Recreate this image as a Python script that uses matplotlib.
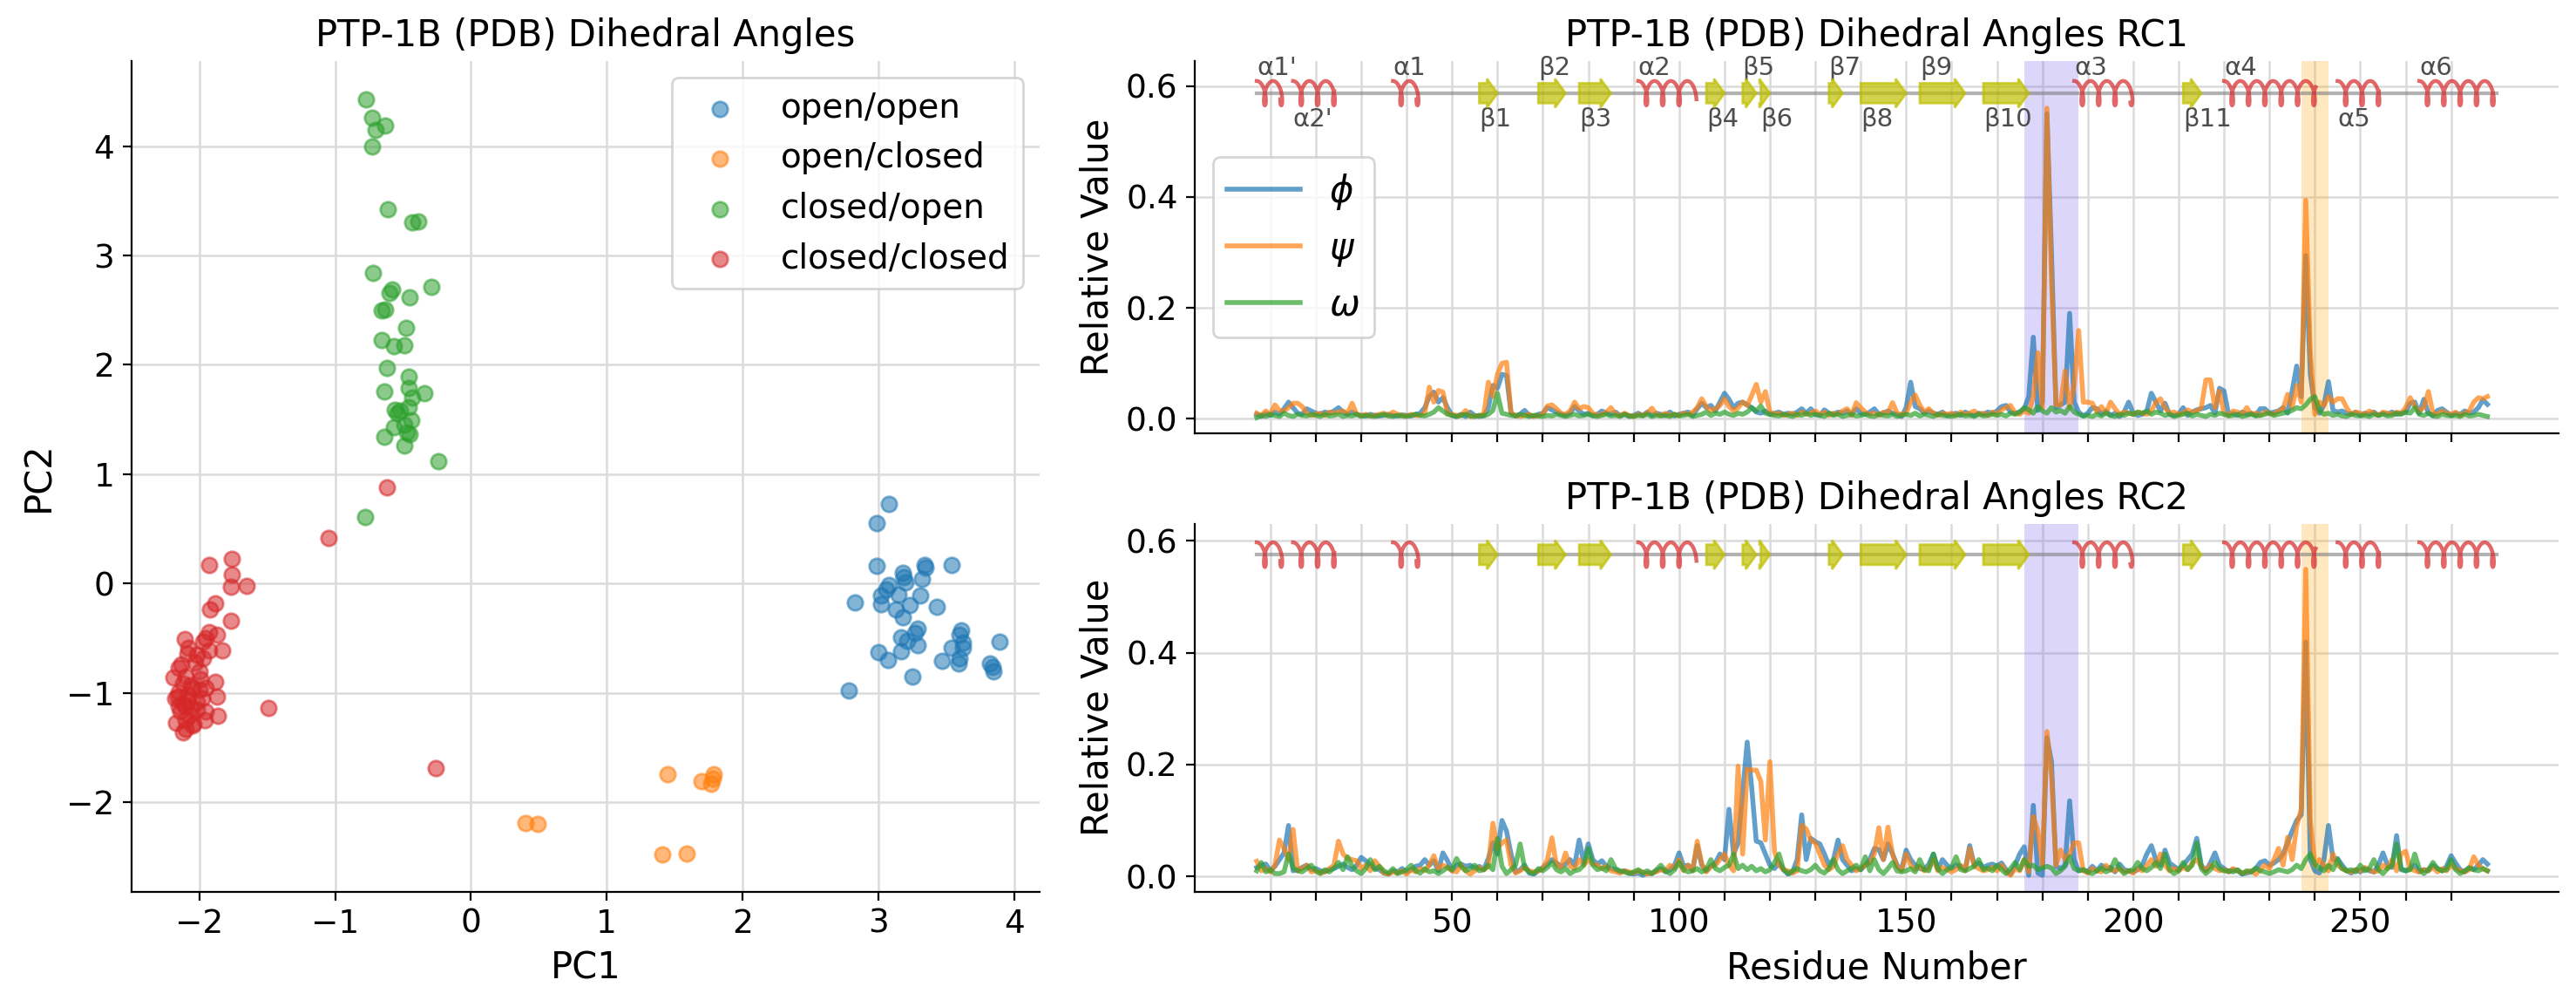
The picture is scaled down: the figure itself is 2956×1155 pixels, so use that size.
import numpy as np
import matplotlib.pyplot as plt
from matplotlib.patches import FancyArrow

# ---------------- PCA scatter (left panel) ----------------
open_open_pc1 = [3.08, 2.99, 2.99, 3.18, 3.19, 3.34, 3.35, 3.54, 3.32, 3.08,
                 3.20, 3.06, 3.02, 2.83, 3.15, 3.31, 3.02, 3.23, 3.43, 3.13,
                 3.18, 3.29, 3.27, 3.17, 3.21, 3.61, 3.60, 3.89, 3.29, 3.62,
                 3.54, 3.62, 3.17, 3.00, 3.60, 3.47, 3.07, 3.59, 3.82, 3.84,
                 3.85, 3.25, 2.78]
open_open_pc2 = [0.73, 0.55, 0.16, 0.10, 0.06, 0.17, 0.15, 0.17, 0.04, -0.01,
                 0.01, -0.05, -0.11, -0.17, -0.10, -0.11, -0.19, -0.20, -0.21, -0.24,
                 -0.31, -0.41, -0.45, -0.49, -0.52, -0.43, -0.47, -0.53, -0.56, -0.54,
                 -0.59, -0.59, -0.62, -0.63, -0.68, -0.71, -0.70, -0.73, -0.73, -0.76,
                 -0.80, -0.85, -0.98]

open_closed_pc1 = [0.40, 0.49, 1.45, 1.70, 1.77, 1.79, 1.78, 1.41, 1.59]
open_closed_pc2 = [-2.19, -2.20, -1.74, -1.81, -1.83, -1.74, -1.78, -2.48, -2.47]

closed_open_pc1 = [-0.77, -0.73, -0.70, -0.63, -0.73, -0.61, -0.43, -0.39, -0.72, -0.58,
                   -0.60, -0.45, -0.29, -0.66, -0.63, -0.48, -0.66, -0.57, -0.49, -0.62,
                   -0.46, -0.46, -0.64, -0.34, -0.43, -0.56, -0.52, -0.46, -0.54, -0.44,
                   -0.49, -0.57, -0.45, -0.47, -0.64, -0.49, -0.24, -0.78]
closed_open_pc2 = [4.43, 4.26, 4.15, 4.19, 4.00, 3.42, 3.30, 3.31, 2.84, 2.69,
                   2.66, 2.62, 2.71, 2.50, 2.51, 2.34, 2.23, 2.17, 2.18, 1.97,
                   1.89, 1.79, 1.76, 1.74, 1.70, 1.59, 1.58, 1.61, 1.56, 1.49,
                   1.45, 1.43, 1.37, 1.38, 1.34, 1.26, 1.12, 0.61]

closed_closed_pc1 = [-0.62, -1.05, -1.93, -1.76, -1.76, -1.77, -1.65, -1.88, -1.92, -1.77,
                     -1.87, -1.93, -1.95, -2.11, -1.97, -2.08, -1.93, -1.83, -2.09, -2.02,
                     -2.13, -2.15, -2.19, -1.99, -1.88, -2.12, -2.06, -2.15, -2.00, -1.87,
                     -2.16, -2.09, -2.02, -2.10, -2.06, -2.14, -1.95, -1.86, -1.49, -2.17,
                     -2.10, -1.96, -2.04, -2.12, -0.26, -2.05, -2.08, -2.12, -2.02, -2.07,
                     -1.98, -2.15, -2.10, -2.00, -1.95, -2.05, -2.18, -2.03, -1.97, -2.10]
closed_closed_pc2 = [0.88, 0.42, 0.17, 0.23, 0.08, -0.03, -0.02, -0.18, -0.24, -0.34,
                     -0.47, -0.44, -0.50, -0.51, -0.53, -0.59, -0.61, -0.61, -0.64, -0.65,
                     -0.74, -0.77, -0.86, -0.87, -0.90, -0.91, -0.93, -0.99, -0.97, -1.03,
                     -1.03, -1.07, -1.08, -1.12, -1.14, -1.17, -1.17, -1.21, -1.14, -1.27,
                     -1.25, -1.25, -1.28, -1.36, -1.69, -0.95, -1.02, -1.10, -1.15, -1.20,
                     -1.05, -1.12, -0.85, -0.80, -0.95, -1.30, -1.05, -0.72, -0.68, -1.33]

state_names = ["open/open", "open/closed", "closed/open", "closed/closed"]
state_colors = ["tab:blue", "tab:orange", "tab:green", "tab:red"]

# ---------------- dihedral contributions (right panels), x1000 ----------------
residues = np.arange(7, 279)

phi_rc1 = [8, 4, 10,
           6, 12, 8, 18, 30, 20, 10, 8, 18, 14,          # 10
           10, 8, 12, 10, 14, 20, 12, 8, 12, 8,           # 20
           6, 5, 8, 6, 5, 6, 8, 6, 5, 7,                  # 30
           6, 5, 8, 10, 20, 40, 48, 30, 38, 20,           # 40
           6, 4, 8, 4, 12, 6, 4, 6, 20, 60,               # 50
           55, 80, 78, 10, 5, 8, 15, 6, 5, 8,             # 60
           10, 20, 16, 12, 8, 6, 10, 22, 14, 8,           # 70
           10, 6, 8, 14, 10, 8, 12, 6, 8, 4,              # 80
           6, 10, 6, 12, 6, 10, 8, 6, 12, 5,              # 90
           8, 10, 12, 6, 18, 28, 20, 24, 14, 30,          # 100
           46, 35, 20, 28, 30, 25, 20, 12, 10, 14,        # 110
           8, 10, 12, 8, 10, 8, 12, 18, 10, 18,           # 120
           8, 6, 16, 10, 8, 12, 10, 14, 8, 18,            # 130
           10, 8, 12, 18, 8, 10, 14, 10, 8, 4,            # 140
           20, 66, 22, 18, 10, 14, 10, 8, 12, 6,          # 150
           8, 10, 6, 12, 8, 6, 10, 8, 12, 10,             # 160
           14, 22, 24, 12, 10, 12, 18, 40, 147, 15,       # 170
           30, 550, 300, 20, 25, 30, 190, 30, 12, 5,      # 180
           10, 20, 18, 8, 14, 6, 10, 4, 12, 30,           # 190
           10, 6, 8, 14, 46, 30, 14, 28, 8, 6,            # 200
           8, 20, 6, 12, 16, 18, 20, 24, 10, 55,          # 210
           50, 8, 10, 6, 12, 8, 10, 6, 18, 18,            # 220
           10, 12, 14, 20, 10, 50, 95, 40, 294, 80,       # 230
           20, 10, 25, 67, 15, 12, 14, 10, 8, 12,         # 240
           6, 10, 8, 12, 6, 10, 8, 12, 8, 10,             # 250
           12, 28, 30, 10, 35, 10, 6, 15, 18, 12,         # 260
           6, 10, 8, 14, 10, 12, 20, 34, 26]              # 270

psi_rc1 = [10, 6, 14,
           8, 25, 15, 14, 20, 28, 28, 22, 10, 6,          # 10
           8, 10, 6, 12, 10, 12, 14, 10, 28, 8,           # 20
           6, 8, 5, 6, 8, 10, 6, 12, 8, 6,                # 30
           5, 8, 6, 6, 10, 57, 30, 51, 48, 10,            # 40
           8, 6, 6, 15, 4, 5, 6, 8, 66, 40,               # 50
           80, 100, 102, 10, 6, 4, 6, 8, 4, 6,            # 60
           8, 23, 25, 18, 10, 8, 14, 30, 18, 22,          # 70
           20, 10, 6, 8, 12, 20, 8, 6, 10, 6,             # 80
           4, 8, 6, 10, 19, 8, 6, 10, 6, 8,               # 90
           6, 10, 8, 12, 20, 36, 22, 14, 18, 24,          # 100
           36, 22, 14, 20, 30, 24, 42, 62, 30, 49,        # 110
           12, 8, 10, 6, 8, 10, 6, 12, 8, 10,             # 120
           14, 8, 12, 6, 10, 8, 14, 18, 6, 29,            # 130
           20, 12, 8, 10, 6, 12, 10, 29, 10, 8,           # 140
           10, 30, 43, 25, 12, 18, 10, 6, 10, 8,          # 150
           10, 6, 12, 8, 10, 14, 8, 10, 6, 12,            # 160
           8, 16, 20, 24, 10, 8, 14, 10, 40, 119,         # 170
           20, 560, 250, 25, 25, 86, 20, 60, 159, 30,     # 180
           30, 28, 12, 22, 10, 30, 18, 8, 12, 10,         # 190
           8, 12, 10, 8, 14, 30, 36, 20, 10, 12,          # 200
           8, 10, 16, 12, 14, 20, 70, 70, 20, 50,         # 210
           10, 6, 14, 12, 8, 20, 8, 10, 6, 12,            # 220
           10, 8, 14, 18, 44, 20, 60, 30, 394, 120,       # 230
           8, 30, 24, 40, 30, 36, 36, 20, 8, 12,          # 240
           10, 8, 14, 10, 6, 12, 10, 8, 12, 10,           # 250
           20, 38, 22, 14, 20, 49, 10, 8, 14, 10,         # 260
           8, 12, 6, 10, 14, 30, 38, 36, 40]              # 270

omega_rc1 = [2, 6, 4,
             8, 6, 4, 10, 6, 4, 8, 6, 5, 8,               # 10
             6, 4, 8, 5, 6, 8, 4, 6, 5, 8,                # 20
             4, 6, 5, 4, 6, 8, 5, 4, 6, 5,                # 30
             4, 6, 8, 6, 5, 8, 12, 20, 14, 8,             # 40
             6, 4, 6, 8, 5, 4, 6, 5, 8, 15,               # 50
             46, 10, 8, 6, 5, 8, 6, 4, 6, 5,              # 60
             4, 6, 5, 8, 6, 4, 6, 8, 5, 6,                # 70
             8, 5, 4, 6, 8, 5, 6, 4, 8, 5,                # 80
             4, 6, 5, 8, 4, 6, 5, 6, 4, 8,                # 90
             5, 6, 8, 4, 6, 8, 12, 6, 10, 8,              # 100
             12, 8, 6, 10, 8, 12, 20, 14, 23, 10,         # 110
             8, 6, 5, 8, 6, 4, 8, 6, 10, 6,               # 120
             8, 6, 4, 10, 6, 8, 4, 6, 8, 5,               # 130
             6, 8, 5, 4, 8, 6, 5, 8, 4, 6,                # 140
             8, 6, 10, 5, 8, 6, 4, 8, 6, 5,               # 150
             4, 6, 8, 5, 6, 4, 8, 5, 6, 8,                # 160
             6, 8, 5, 10, 8, 12, 20, 16, 10, 22,          # 170
             14, 10, 20, 12, 15, 10, 22, 12, 8, 5,        # 180
             6, 4, 8, 5, 10, 6, 4, 8, 6, 10,              # 190
             8, 12, 10, 14, 8, 12, 10, 6, 8, 4,           # 200
             6, 8, 10, 5, 8, 6, 4, 8, 6, 10,              # 210
             8, 5, 6, 8, 4, 6, 8, 5, 6, 8,                # 220
             10, 6, 8, 10, 12, 15, 20, 18, 25, 35,        # 230
             40, 15, 8, 10, 6, 8, 5, 4, 8, 6,             # 240
             5, 6, 4, 8, 6, 8, 5, 6, 10, 8,               # 250
             12, 10, 20, 8, 6, 10, 5, 4, 8, 6,            # 260
             5, 6, 4, 8, 5, 6, 8, 6, 4]                   # 270

phi_rc2 = [16, 20, 22,
           10, 18, 30, 42, 91, 10, 12, 16, 20, 12,        # 10
           14, 10, 8, 12, 14, 18, 22, 16, 12, 20,         # 20
           34, 28, 20, 14, 12, 6, 4, 10, 8, 14,           # 30
           8, 12, 18, 20, 30, 20, 28, 10, 42, 28,         # 40
           10, 20, 22, 18, 20, 14, 18, 12, 32, 60,        # 50
           40, 100, 81, 40, 8, 12, 20, 6, 4, 10,          # 60
           16, 22, 30, 24, 18, 22, 30, 20, 65, 25,        # 70
           58, 30, 22, 28, 18, 14, 12, 8, 10, 6,          # 80
           4, 6, 2, 6, 5, 10, 14, 8, 12, 20,              # 90
           42, 18, 20, 12, 55, 20, 10, 18, 24, 40,        # 100
           30, 120, 40, 60, 150, 240, 158, 63, 60, 40,    # 110
           20, 14, 24, 12, 4, 8, 30, 110, 30, 68,         # 120
           62, 58, 40, 20, 30, 65, 30, 20, 10, 14,        # 130
           12, 20, 30, 50, 48, 30, 58, 40, 20, 12,        # 140
           47, 30, 20, 14, 12, 22, 40, 12, 30, 20,        # 150
           14, 20, 18, 12, 55, 20, 24, 16, 20, 22,        # 160
           18, 24, 12, 4, 20, 40, 53, 2, 127, 6,          # 170
           2, 248, 205, 18, 14, 20, 135, 30, 10, 12,      # 180
           8, 18, 10, 20, 14, 16, 8, 22, 12, 10,          # 190
           8, 12, 20, 40, 55, 30, 20, 47, 24, 18,         # 200
           12, 20, 30, 40, 68, 20, 10, 24, 42, 20,        # 210
           14, 8, 12, 10, 4, 6, 8, 14, 25, 28,            # 220
           20, 24, 30, 40, 60, 81, 100, 110, 419, 30,     # 230
           10, 6, 30, 91, 30, 32, 20, 10, 6, 12,          # 240
           8, 14, 10, 8, 20, 42, 20, 16, 73, 12,          # 250
           10, 14, 20, 8, 12, 10, 20, 14, 10, 18,         # 260
           37, 24, 12, 8, 16, 12, 20, 30, 22]             # 270

psi_rc2 = [27, 10, 14,
           8, 20, 65, 50, 30, 84, 10, 14, 20, 8,          # 10
           10, 6, 8, 14, 20, 63, 40, 32, 30, 28,          # 20
           14, 20, 10, 28, 18, 6, 4, 8, 6, 10,            # 30
           4, 12, 8, 14, 10, 20, 37, 14, 20, 16,          # 40
           10, 8, 20, 10, 4, 10, 16, 12, 18, 95,          # 50
           50, 60, 65, 20, 6, 10, 16, 10, 8, 10,          # 60
           14, 30, 69, 20, 16, 42, 18, 14, 30, 20,        # 70
           30, 22, 20, 14, 18, 10, 8, 6, 10, 8,           # 80
           6, 10, 8, 4, 6, 8, 12, 10, 20, 14,             # 90
           30, 10, 20, 10, 63, 22, 8, 18, 20, 30,         # 100
           40, 20, 10, 197, 40, 192, 190, 190, 170, 65,   # 110
           205, 45, 20, 12, 10, 6, 10, 91, 85, 65,        # 120
           60, 40, 20, 12, 18, 40, 55, 30, 20, 10,        # 130
           14, 20, 24, 40, 87, 30, 88, 40, 18, 10,        # 140
           40, 20, 12, 18, 10, 14, 30, 10, 16, 12,        # 150
           8, 12, 20, 10, 50, 18, 14, 10, 12, 16,         # 160
           10, 20, 8, 2, 14, 10, 30, 8, 107, 81,          # 170
           20, 259, 180, 20, 47, 30, 40, 60, 60, 10,      # 180
           6, 14, 10, 8, 20, 12, 10, 14, 8, 10,           # 190
           6, 14, 10, 20, 30, 18, 40, 20, 10, 14,         # 200
           10, 16, 12, 24, 30, 18, 10, 20, 14, 10,        # 210
           12, 8, 14, 10, 6, 8, 10, 4, 12, 20,            # 220
           14, 30, 50, 20, 70, 30, 90, 120, 549, 100,     # 230
           20, 30, 20, 10, 40, 20, 14, 10, 8, 12,         # 240
           10, 16, 12, 8, 10, 20, 14, 30, 10, 40,         # 250
           45, 14, 10, 8, 12, 10, 16, 8, 14, 10,          # 260
           20, 14, 10, 8, 12, 35, 20, 14, 10]             # 270

omega_rc2 = [10, 25, 8,
             12, 5, 5, 8, 40, 15, 10, 8, 14, 20,          # 10
             10, 5, 12, 8, 15, 25, 12, 35, 18, 10,        # 20
             5, 14, 30, 12, 18, 10, 6, 14, 5, 8,          # 30
             12, 20, 10, 6, 14, 8, 10, 5, 10, 16,         # 40
             12, 32, 18, 10, 14, 20, 10, 12, 20, 12,      # 50
             68, 18, 5, 12, 20, 58, 15, 8, 5, 14,         # 60
             10, 16, 25, 12, 8, 14, 5, 10, 12, 20,        # 70
             50, 20, 12, 15, 10, 30, 14, 10, 8, 5,        # 80
             8, 12, 6, 10, 5, 12, 20, 10, 5, 12,          # 90
             25, 12, 8, 10, 14, 8, 12, 30, 14, 10,        # 100
             16, 20, 40, 14, 20, 12, 18, 10, 14, 8,       # 110
             12, 25, 40, 12, 5, 10, 14, 10, 8, 12,        # 120
             20, 10, 6, 14, 30, 12, 5, 10, 14, 20,        # 130
             12, 35, 10, 30, 12, 5, 14, 25, 10, 8,        # 140
             10, 14, 8, 30, 12, 10, 40, 14, 5, 12,        # 150
             16, 35, 12, 10, 14, 18, 30, 12, 15, 10,      # 160
             20, 12, 5, 14, 25, 12, 30, 18, 20, 12,       # 170
             15, 18, 15, 5, 10, 18, 35, 14, 10, 12,       # 180
             8, 5, 10, 15, 8, 12, 30, 14, 5, 10,          # 190
             12, 25, 14, 10, 16, 25, 14, 40, 12, 5,       # 200
             10, 25, 12, 20, 60, 14, 5, 12, 25, 14,       # 210
             10, 10, 8, 12, 5, 10, 8, 15, 10, 8,          # 220
             5, 8, 12, 10, 8, 12, 20, 14, 30, 40,         # 230
             22, 15, 10, 20, 12, 30, 14, 10, 12, 8,       # 240
             20, 10, 14, 30, 12, 5, 14, 20, 58, 14,       # 250
             10, 12, 40, 14, 5, 12, 25, 14, 10, 12,       # 260
             30, 12, 5, 10, 15, 12, 10, 14, 10]           # 270

# ---------------- secondary structure of PTP-1B ----------------
helix_names = ["α1'", "α2'", "α1", "α2", "α3", "α4", "α5", "α6"]
helix_start = [7, 15, 37, 91, 187, 220, 245, 263]
helix_end = [13, 25, 43, 103, 200, 241, 255, 280]
helix_above = [True, False, True, True, True, True, False, True]

strand_names = ["β1", "β2", "β3", "β4", "β5", "β6", "β7", "β8", "β9", "β10", "β11"]
strand_start = [56, 69, 78, 106, 114, 118, 133, 140, 153, 167, 211]
strand_end = [60, 75, 85, 110, 117, 120, 136, 150, 163, 177, 215]
strand_above = [False, True, False, False, True, False, True, False, True, False, False]

wpd_loop = (176, 188)
second_site = (237, 243)


def draw_ss(ax, y, labels=True):
    ax.plot([helix_start[0], helix_end[-1]], [y, y], color="gray", alpha=0.6, lw=1.5, zorder=3)
    for name, s, e, up in zip(helix_names, helix_start, helix_end, helix_above):
        u = np.linspace(0, e - s, 400)
        t = 2 * np.pi * u / 3.6
        # coil glyph: arcs on top, narrow loops hanging below
        ax.plot(s + u + 0.95 * np.sin(t), y + 0.022 * np.cos(t),
                color="tab:red", alpha=0.7, lw=1.6, zorder=4)
        if labels:
            ax.text(s, y + (0.045 if up else -0.047), name, ha="left", va="center",
                    fontsize=10.5, color="0.3")
    for name, s, e, up in zip(strand_names, strand_start, strand_end, strand_above):
        ax.add_patch(FancyArrow(s, y, e - s, 0, width=0.036, head_width=0.052,
                                head_length=2.3, length_includes_head=True,
                                facecolor="#bfbf00", edgecolor="#bfbf00",
                                alpha=0.7, lw=1, zorder=4))
        if labels:
            ax.text(s, y + (0.045 if up else -0.047), name, ha="left", va="center",
                    fontsize=10.5, color="0.3")


fig = plt.figure(figsize=(14.78, 5.775), dpi=200)
ax0 = fig.add_axes([0.0510, 0.1147, 0.3527, 0.8247])
ax1 = fig.add_axes([0.4638, 0.5693, 0.5294, 0.3701])
ax2 = fig.add_axes([0.4638, 0.1147, 0.5294, 0.3650])

# left panel
groups = [(open_open_pc1, open_open_pc2), (open_closed_pc1, open_closed_pc2),
          (closed_open_pc1, closed_open_pc2), (closed_closed_pc1, closed_closed_pc2)]
for (px, py), name, c in zip(groups, state_names, state_colors):
    ax0.scatter(px, py, s=40, color=c, alpha=0.55, label=name, zorder=3)
ax0.set_xlim(-2.5, 4.19)
ax0.set_ylim(-2.815, 4.778)
ax0.set_xticks(range(-2, 5))
ax0.set_yticks(range(-2, 5))
ax0.set_xlabel("PC1", fontsize=15)
ax0.set_ylabel("PC2", fontsize=15)
ax0.set_title("PTP-1B (PDB) Dihedral Angles", fontsize=15)
ax0.legend(loc="upper right", fontsize=14)

# right panels
ticks = np.arange(10, 280, 10)
for ax, series, title, ytop, ss_y, lab in [
        (ax1, (phi_rc1, psi_rc1, omega_rc1), "PTP-1B (PDB) Dihedral Angles RC1", 0.645, 0.587, True),
        (ax2, (phi_rc2, psi_rc2, omega_rc2), "PTP-1B (PDB) Dihedral Angles RC2", 0.630, 0.575, False)]:
    ax.axvspan(*wpd_loop, color="mediumslateblue", alpha=0.27, lw=0, zorder=1)
    ax.axvspan(*second_site, color="orange", alpha=0.25, lw=0, zorder=1)
    for vals, sym, c in zip(series, [r"$\phi$", r"$\psi$", r"$\omega$"],
                            ["tab:blue", "tab:orange", "tab:green"]):
        ax.plot(residues, np.array(vals) / 1000.0, color=c, alpha=0.7, lw=2,
                label=sym, zorder=2)
    draw_ss(ax, ss_y, labels=lab)
    ax.set_xlim(-6.65, 293.65)
    ax.set_ylim(-0.027, ytop)
    ax.set_xticks(ticks)
    ax.set_yticks([0.0, 0.2, 0.4, 0.6])
    ax.set_ylabel("Relative Value", fontsize=15)
    ax.set_title(title, fontsize=15)

ax1.set_xticklabels([])
ax2.set_xticklabels([str(t) if t % 50 == 0 else "" for t in ticks])
ax2.set_xlabel("Residue Number", fontsize=15)
ax1.legend(loc="center left", fontsize=15)

for ax in (ax0, ax1, ax2):
    ax.grid(True, color="0.86", lw=0.9)
    ax.set_axisbelow(True)
    ax.spines["top"].set_visible(False)
    ax.spines["right"].set_visible(False)
    ax.tick_params(labelsize=13.5)

fig.savefig("out.png", dpi=200)
